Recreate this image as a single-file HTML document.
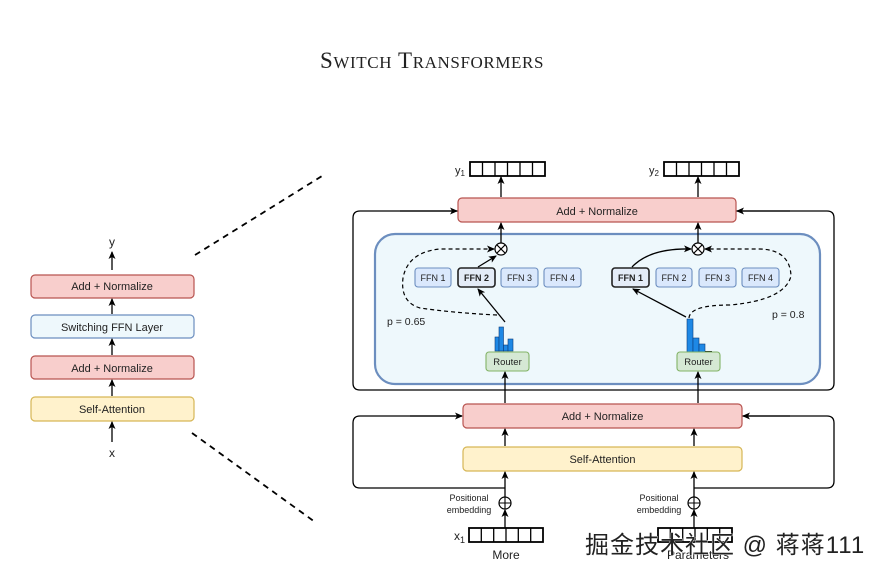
<!DOCTYPE html>
<html><head><meta charset="utf-8"><style>
html,body{margin:0;padding:0;background:#fff;width:881px;height:576px;overflow:hidden}
svg{display:block}
text{font-family:"Liberation Sans",Helvetica,sans-serif;fill:#222}
</style></head><body>
<svg width="881" height="576" viewBox="0 0 881 576" xmlns="http://www.w3.org/2000/svg">
<defs>
<marker id="a" markerWidth="8" markerHeight="8" refX="7" refY="4" orient="auto" markerUnits="userSpaceOnUse">
<path d="M0,0.5 L8,4 L0,7.5 L2,4 z" fill="#000"/></marker>
</defs>
<!-- title -->
<text x="432" y="68" text-anchor="middle" style="font-family:'Liberation Serif',serif;font-size:23px;letter-spacing:0.6px" fill="#111">S<tspan font-size="17">WITCH</tspan> T<tspan font-size="17">RANSFORMERS</tspan></text>

<!-- LEFT stack -->
<g stroke-width="1.2">
<rect x="31" y="275" width="163" height="23" rx="4" fill="#f8cecc" stroke="#b85450"/>
<rect x="31" y="315" width="163" height="23" rx="4" fill="#eef8fc" stroke="#6c8ebf"/>
<rect x="31" y="356" width="163" height="23" rx="4" fill="#f8cecc" stroke="#b85450"/>
<rect x="31" y="397" width="163" height="24" rx="4" fill="#fff2cc" stroke="#d6b656"/>
</g>
<g font-size="11" text-anchor="middle">
<text x="112" y="290">Add + Normalize</text>
<text x="112" y="331">Switching FFN Layer</text>
<text x="112" y="372">Add + Normalize</text>
<text x="112" y="413">Self-Attention</text>
<text x="112" y="246" font-size="12">y</text>
<text x="112" y="457" font-size="12">x</text>
</g>
<g stroke="#000" stroke-width="1.3" marker-end="url(#a)">
<line x1="112" y1="270" x2="112" y2="252"/>
<line x1="112" y1="314" x2="112" y2="299"/>
<line x1="112" y1="355" x2="112" y2="339"/>
<line x1="112" y1="396" x2="112" y2="380"/>
<line x1="112" y1="442" x2="112" y2="422"/>
</g>
<g stroke="#000" stroke-width="1.8" stroke-dasharray="6,5">
<line x1="195" y1="255" x2="322" y2="176"/>
<line x1="192" y1="433" x2="315" y2="522"/>
</g>

<!-- RIGHT upper block -->
<path d="M458,211 H360 Q353,211 353,218 V383 Q353,390 360,390 H827 Q834,390 834,383 V218 Q834,211 827,211 H736" fill="none" stroke="#000" stroke-width="1.3"/>
<g stroke="#000" stroke-width="1.3" marker-end="url(#a)">
<line x1="400" y1="211" x2="457" y2="211"/>
<line x1="790" y1="211" x2="737" y2="211"/>
</g>
<rect x="375" y="234" width="445" height="150" rx="20" fill="#eef8fc" stroke="#6c8ebf" stroke-width="2.2"/>
<rect x="458" y="198" width="278" height="24" rx="4" fill="#f8cecc" stroke="#b85450" stroke-width="1.2"/>
<text x="597" y="215" font-size="11" text-anchor="middle">Add + Normalize</text>

<!-- output vectors -->
<g fill="#fff" stroke="#000" stroke-width="1.8">
<rect x="470" y="162" width="75" height="14"/>
<rect x="664" y="162" width="75" height="14"/>
<rect x="469" y="528" width="74" height="14"/>
<rect x="658" y="528" width="74" height="14"/>
</g>
<g stroke="#000" stroke-width="1.3">
<path d="M482.5,162V176M495,162V176M507.5,162V176M520,162V176M532.5,162V176"/>
<path d="M676.5,162V176M689,162V176M701.5,162V176M714,162V176M726.5,162V176"/>
<path d="M481.3,528V542M493.7,528V542M506,528V542M518.3,528V542M530.7,528V542"/>
<path d="M670.3,528V542M682.7,528V542M695,528V542M707.3,528V542M719.7,528V542"/>
</g>
<text x="455" y="174" font-size="11">y<tspan font-size="8" dy="2">1</tspan></text>
<text x="649" y="174" font-size="11">y<tspan font-size="8" dy="2">2</tspan></text>
<text x="454" y="540" font-size="12">x<tspan font-size="9" dy="3">1</tspan></text>
<g stroke="#000" stroke-width="1.3" marker-end="url(#a)">
<line x1="501" y1="197" x2="501" y2="177"/>
<line x1="698" y1="197" x2="698" y2="177"/>
<line x1="501" y1="243" x2="501" y2="223"/>
<line x1="698" y1="243" x2="698" y2="223"/>
</g>
<!-- otimes -->
<g fill="#fff" stroke="#000" stroke-width="1.2">
<circle cx="501" cy="249" r="6"/><circle cx="698" cy="249" r="6"/>
</g>
<g stroke="#000" stroke-width="1.1">
<path d="M496.8,244.8L505.2,253.2M505.2,244.8L496.8,253.2"/>
<path d="M693.8,244.8L702.2,253.2M702.2,244.8L693.8,253.2"/>
</g>
<!-- FFN boxes -->
<g fill="#dae8fc" stroke="#6c8ebf" stroke-width="1.1">
<rect x="415" y="268" width="36" height="19" rx="3"/>
<rect x="501" y="268" width="37" height="19" rx="3"/>
<rect x="544" y="268" width="37" height="19" rx="3"/>
<rect x="656" y="268" width="36" height="19" rx="3"/>
<rect x="699" y="268" width="37" height="19" rx="3"/>
<rect x="742" y="268" width="37" height="19" rx="3"/>
</g>
<g fill="#e4ecf7" stroke="#222" stroke-width="1.6">
<rect x="458" y="268" width="37" height="19" rx="3"/>
<rect x="612" y="268" width="37" height="19" rx="3"/>
</g>
<g font-size="9" text-anchor="middle" fill="#333">
<text x="433" y="281">FFN 1</text>
<text x="476.5" y="281" font-weight="bold" fill="#111">FFN 2</text>
<text x="519.5" y="281">FFN 3</text>
<text x="562.5" y="281">FFN 4</text>
<text x="630.5" y="281" font-weight="bold" fill="#111">FFN 1</text>
<text x="674" y="281">FFN 2</text>
<text x="717.5" y="281">FFN 3</text>
<text x="760.5" y="281">FFN 4</text>
</g>
<!-- arrows router->ffn, ffn->otimes -->
<g stroke="#000" stroke-width="1.3" fill="none" marker-end="url(#a)">
<line x1="505" y1="322" x2="478" y2="289"/>
<line x1="478" y1="267" x2="496" y2="256"/>
<line x1="686" y1="317" x2="633" y2="289"/>
<path d="M632,267 Q650,248 691,249"/>
</g>
<g stroke="#000" stroke-width="1.2" fill="none" stroke-dasharray="4,3" marker-end="url(#a)">
<path d="M497,315 Q455,313 420,308 Q400,302 403,278 Q408,252 440,249 L494,249"/>
<path d="M689,318 Q690,305 730,305 Q785,300 791,276 Q790,250 760,249 L705,249"/>
</g>
<text x="387" y="325" font-size="10.5">p = 0.65</text>
<text x="772" y="318" font-size="10.5">p = 0.8</text>
<!-- histograms -->
<g fill="#1e88e5" stroke="#0d3c7a" stroke-width="0.6">
<rect x="495" y="337" width="4" height="14"/>
<rect x="499" y="327" width="4.5" height="24"/>
<rect x="503.5" y="345" width="4.5" height="6"/>
<rect x="508" y="339" width="5" height="12"/>
<rect x="687" y="319" width="6" height="33"/>
<rect x="693" y="338" width="6" height="14"/>
<rect x="699" y="344" width="6" height="8"/>
</g>
<line x1="705" y1="351.5" x2="712" y2="351.5" stroke="#000" stroke-width="1"/>
<!-- routers -->
<g fill="#d5e8d4" stroke="#82b366" stroke-width="1.1">
<rect x="486" y="352" width="43" height="19" rx="3"/>
<rect x="677" y="352" width="43" height="19" rx="3"/>
</g>
<text x="507.5" y="365" font-size="9.5" text-anchor="middle">Router</text>
<text x="698.5" y="365" font-size="9.5" text-anchor="middle">Router</text>
<g stroke="#000" stroke-width="1.3" marker-end="url(#a)">
<line x1="505" y1="403" x2="505" y2="372"/>
<line x1="698" y1="403" x2="698" y2="372"/>
</g>

<!-- lower block -->
<path d="M505,488 H360 Q353,488 353,481 V423 Q353,416 360,416 H462 M742,416 H827 Q834,416 834,423 V481 Q834,488 827,488 H694" fill="none" stroke="#000" stroke-width="1.3"/>
<g stroke="#000" stroke-width="1.3" marker-end="url(#a)">
<line x1="410" y1="416" x2="462" y2="416"/>
<line x1="790" y1="416" x2="743" y2="416"/>
</g>
<rect x="463" y="404" width="279" height="24" rx="4" fill="#f8cecc" stroke="#b85450" stroke-width="1.2"/>
<text x="602.5" y="420" font-size="11" text-anchor="middle">Add + Normalize</text>
<rect x="463" y="447" width="279" height="24" rx="4" fill="#fff2cc" stroke="#d6b656" stroke-width="1.2"/>
<text x="602.5" y="463" font-size="11" text-anchor="middle">Self-Attention</text>
<g stroke="#000" stroke-width="1.3" marker-end="url(#a)">
<line x1="505" y1="446" x2="505" y2="429"/>
<line x1="694" y1="446" x2="694" y2="429"/>
<line x1="505" y1="497" x2="505" y2="472"/>
<line x1="694" y1="497" x2="694" y2="472"/>
<line x1="505" y1="528" x2="505" y2="510"/>
<line x1="694" y1="528" x2="694" y2="510"/>
</g>
<g fill="#fff" stroke="#000" stroke-width="1.2">
<circle cx="505" cy="503" r="6"/><circle cx="694" cy="503" r="6"/>
</g>
<path d="M499,503H511M505,497V509M688,503H700M694,497V509" stroke="#000" stroke-width="1.1"/>
<g font-size="9" text-anchor="middle">
<text x="469" y="501">Positional</text><text x="469" y="513">embedding</text>
<text x="659" y="501">Positional</text><text x="659" y="513">embedding</text>
</g>
<text x="506" y="559" font-size="12" text-anchor="middle">More</text>
<text x="698" y="559" font-size="12" text-anchor="middle">Parameters</text>
<!-- watermark -->
<text x="585" y="553" font-size="24" style="font-family:'Liberation Sans','Noto Sans CJK SC',sans-serif;letter-spacing:1px" fill="#a0a0a0" stroke="#fff" stroke-width="0.8" paint-order="stroke">掘金技术社区 @ 蒋蒋111</text>
</svg>
</body></html>
